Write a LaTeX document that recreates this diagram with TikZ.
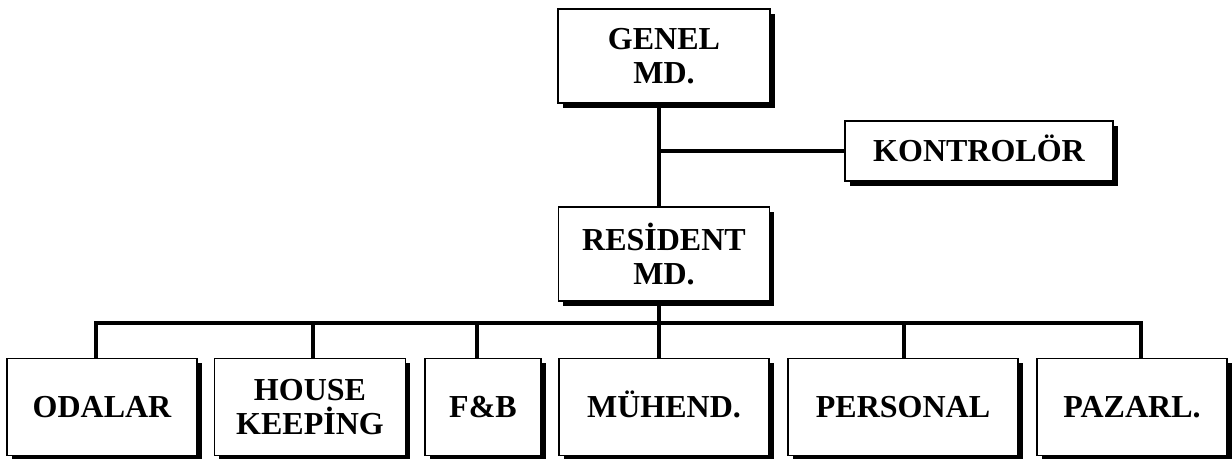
\documentclass[tikz,border=0pt]{standalone}
\usepackage{fontspec}
\setmainfont{Liberation Serif}
\usepackage{tikz}
\usetikzlibrary{shadows}
\usetikzlibrary{calc}
\tikzset{
  box/.style={draw, fill=white, line width=1.4pt, inner sep=0pt,
  align=center, font=\bfseries\fontsize{24}{26}\selectfont,
  drop shadow={shadow xshift=3.5pt, shadow yshift=-3.5pt, fill=black, opacity=1}},
  onebox/.style={box, text height=16pt, text depth=0pt},
  link/.style={draw, line width=2.6pt, line cap=rect},
}

\begin{document}
\begin{tikzpicture}[
  x=0.75pt,
  y=-0.75pt,
]

  \useasboundingbox (0,0) rectangle (1232,459);

  \coordinate (top)      at ( 664,   56 );
  \coordinate (ctrl)     at ( 979,  151 );
  \coordinate (res)      at ( 664,  254 );

  \coordinate (trunk)    at ( 659,  323 );
  \coordinate (busL)     at (  96,  323 );
  \coordinate (busR)     at ( 1141, 323 );

  % Head office
  \node[box, minimum width=212*0.75pt, minimum height=94*0.75pt] (genel) at (top) {GENEL\\MD.};
  \node[onebox, minimum width=268*0.75pt, minimum height=60*0.75pt] (kontrol) at (ctrl) {KONTROLÖR};
  \node[box, minimum width=211*0.75pt, minimum height=94*0.75pt] (resident) at (res) {RESİDENT\\MD.};

  % Departments
  \node[onebox, minimum width=190*0.75pt, minimum height=97*0.75pt] (odalar)   at ( 102,   407 ) {ODALAR};
  \node[box,    minimum width=191*0.75pt, minimum height=97*0.75pt] (house)    at ( 310,   407 ) {HOUSE\\KEEPİNG};
  \node[onebox, minimum width=116*0.75pt, minimum height=97*0.75pt] (fb)       at ( 483,   407 ) {F\&B};
  \node[onebox, minimum width=210*0.75pt, minimum height=97*0.75pt] (muhend)   at ( 664,   407 ) {MÜHEND.};
  \node[onebox, minimum width=230*0.75pt, minimum height=97*0.75pt] (personal) at ( 903,   407 ) {PERSONAL};
  \node[onebox, minimum width=190*0.75pt, minimum height=97*0.75pt] (pazarl)   at ( 1132,  407 ) {PAZARL.};

  % Trunk and staff line
  \draw[link] (genel.south -| trunk) -- (resident.north -| trunk);
  \draw[link] (kontrol.west) -- (kontrol.west -| trunk);
  \draw[link] (resident.south -| trunk) -- (trunk);

  % Bus to departments
  \draw[link] (busL) -- (busR);
  \foreach \n/\x in {odalar/96, house/313, fb/477, muhend/659, personal/904, pazarl/1141}
    \draw[link] (\n.north -| \x,0) -- (\x,323);

\end{tikzpicture}
\end{document}
